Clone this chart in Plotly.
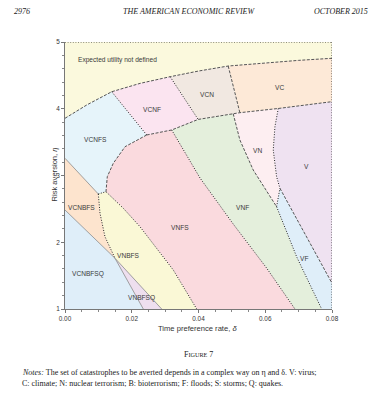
import plotly.graph_objects as go

# ---------------- data (delta, eta) ----------------
# upper boundary of "Expected utility not defined"
eu_delta = [0.0, 0.0065, 0.014, 0.0225, 0.0315, 0.040, 0.0489, 0.060, 0.070, 0.080]
eu_eta = [3.857, 4.056, 4.255, 4.38, 4.48, 4.565, 4.64, 4.69, 4.725, 4.756]

# middle boundary B-E-D-F-H-I-J
mid_delta = [0.02448, 0.03197, 0.0399, 0.0504, 0.0524, 0.0639, 0.080]
mid_eta = [3.607, 3.682, 3.84, 3.925, 3.941, 4.004, 4.106]

# arc bounding VNFS on the upper left (B -> P)
arc_delta = [0.02448, 0.01798, 0.01447, 0.01267, 0.01228]
arc_eta = [3.607, 3.431, 3.183, 2.982, 2.757]

vnfs_vnf_delta = [0.03197, 0.03595, 0.04045, 0.0504, 0.0604, 0.0689]
vnfs_vnf_eta = [3.682, 3.352, 2.963, 2.273, 1.614, 1.0]

vnf_vn_delta = [0.0504, 0.0524, 0.0564, 0.0634]
vnf_vn_eta = [3.925, 3.532, 3.082, 2.533]

vnf_vf_delta = [0.0634, 0.0694, 0.0769]
vnf_vf_eta = [2.533, 1.783, 1.0]

v_vn_delta = [0.0639, 0.0629, 0.0624, 0.0634, 0.0644]
v_vn_eta = [4.004, 3.731, 3.382, 2.982, 2.808]

v_vf_delta = [0.0644, 0.080]
v_vf_eta = [2.808, 1.386]

vcnfs_vcnbfs_delta = [0.0, 0.00998]
vcnfs_vcnbfs_eta = [3.258, 2.723]

vcnbfs_vcnbfsq_delta = [0.0, 0.01498]
vcnbfs_vcnbfsq_eta = [2.483, 1.76]

vcnbfs_vnbfs_delta = [0.00998, 0.01049, 0.01198, 0.01498]
vcnbfs_vnbfs_eta = [2.723, 2.434, 2.083, 1.76]

vnbfs_vnfs_delta = [0.01228, 0.01747, 0.02247, 0.03245, 0.03946]
vnbfs_vnfs_eta = [2.757, 2.509, 2.233, 1.584, 1.0]

vcnbfsq_vnbfsq_delta = [0.01498, 0.02346]
vcnbfsq_vnbfsq_eta = [1.76, 1.0]

vnbfsq_vnbfs_delta = [0.01498, 0.02897]
vnbfsq_vnbfs_eta = [1.76, 1.0]

region_labels = ["Expected utility not defined", "VCNF", "VCN", "VC", "VCNFS", "VN", "V",
                 "VCNBFS", "VNFS", "VNF", "VNBFS", "VCNBFSQ", "VNBFSQ", "VF"]
label_delta = [0.0032, 0.02598, 0.04254, 0.06412, 0.00899, 0.05761, 0.07241,
               0.0050, 0.03446, 0.05324, 0.01897, 0.00698, 0.02298, 0.07169]
label_eta = [4.73, 3.992, 4.221, 4.315, 3.532, 3.382, 3.132,
             2.518, 2.224, 2.524, 1.809, 1.524, 1.16, 1.760]

x_ticks = [0.0, 0.02, 0.04, 0.06, 0.08]
y_ticks = [1, 2, 3, 4, 5]
D0, D1, E0, E1 = 0.0, 0.08, 1.0, 5.0

# ---------------- geometry helpers ----------------
def pts(xs, ys):
    return list(zip(xs, ys))

eu = pts(eu_delta, eu_eta)
mid = pts(mid_delta, mid_eta)
arc = pts(arc_delta, arc_eta)
vnfs_vnf = pts(vnfs_vnf_delta, vnfs_vnf_eta)
vnf_vn = pts(vnf_vn_delta, vnf_vn_eta)
vnf_vf = pts(vnf_vf_delta, vnf_vf_eta)
v_vn = pts(v_vn_delta, v_vn_eta)
v_vf = pts(v_vf_delta, v_vf_eta)
r_q = pts(vcnfs_vcnbfs_delta, vcnfs_vcnbfs_eta)
s_t = pts(vcnbfs_vcnbfsq_delta, vcnbfs_vcnbfsq_eta)
q_t = pts(vcnbfs_vnbfs_delta, vcnbfs_vnbfs_eta)
p_u = pts(vnbfs_vnfs_delta, vnbfs_vnfs_eta)
t_v = pts(vcnbfsq_vnbfsq_delta, vcnbfsq_vnbfsq_eta)
t_w = pts(vnbfsq_vnbfs_delta, vnbfsq_vnbfs_eta)

A, C, G = eu[2], eu[4], eu[6]
B, E, D, F, H, I, J = mid
P = arc[-1]
R, Q = r_q
S, T = s_t
K = vnf_vn[-1]
L = vnf_vf[-1]
M = v_vf[0]
N = v_vf[-1]
U = p_u[-1]
V_ = t_v[-1]
W = t_w[-1]
rev = lambda l: l[::-1]

regions = [
    ("EU", "#FBF9DD", [(D0, E1), (D1, E1)] + rev(eu)),
    ("VCNFS", "#E6F4FA", [R] + eu[0:3] + arc + [Q]),
    ("VCNF", "#FBE4F0", eu[2:5] + [D, E, B]),
    ("VCN", "#F1E8E1", eu[4:7] + [H, F, D]),
    ("VC", "#FDE9D7", eu[6:] + [J, I, H]),
    ("VN", "#FDEEF1", [F, H, I] + v_vn[1:] + rev(vnf_vn)[:-1]),
    ("V", "#EFE2F1", [I, J, N] + rev(v_vn)[:-1]),
    ("VNF", "#E4EFDC", [E, D, F] + vnf_vn[1:] + vnf_vf[1:] + rev(vnfs_vnf)[:-1]),
    ("VF", "#DFEEF9", v_vf + [(D1, E0)] + rev(vnf_vf)),
    ("VNFS", "#FADADE", [B] + vnfs_vnf + rev(p_u) + rev(arc)[1:-1]),
    ("VNBFS", "#FAF8D6", [Q] + p_u + [W, T] + rev(q_t)[1:-1]),
    ("VCNBFS", "#FDE4CE", [R, Q] + q_t[1:] + [S]),
    ("VCNBFSQ", "#DFEEF9", [S, T, V_, (D0, E0)]),
    ("VNBFSQ", "#EEDFEF", [T, W, V_]),
]

fig = go.Figure()
for name, col, poly in regions:
    xs = [p[0] for p in poly] + [poly[0][0]]
    ys = [p[1] for p in poly] + [poly[0][1]]
    fig.add_trace(go.Scatter(x=xs, y=ys, mode="lines", fill="toself", fillcolor=col,
                             line=dict(width=0), hoverinfo="skip", showlegend=False))

DASH = dict(color="#555555", width=1, dash="3px,1.5px")
DOT = dict(color="#222222", width=1, dash="1px,1.6px")
SOLID = dict(color="#8a8a8a", width=0.8)

lines = [
    (eu, DASH), (mid, DASH), (arc, DASH), ([A, B], DOT), ([C, D], DOT), ([G, H], DASH),
    (vnf_vn, DASH), (v_vn, DOT), (vnf_vf, DOT), ([K, M], DOT), (v_vf, DASH),
    (vnfs_vnf, DOT), (r_q, SOLID), (s_t, SOLID), (q_t, DOT), (p_u, DOT),
    (t_v, SOLID), (t_w, SOLID), ([Q, P], DOT),
    ([(D0, E1), (D1, E1)], DOT), ([(D1, E1), (D1, E0)], DOT),
]
for seg, st in lines:
    fig.add_trace(go.Scatter(x=[p[0] for p in seg], y=[p[1] for p in seg], mode="lines",
                             line=st, hoverinfo="skip", showlegend=False))

for lab, dx, ey in zip(region_labels, label_delta, label_eta):
    fig.add_annotation(x=dx, y=ey, text=lab, showarrow=False,
                       xanchor="left" if lab.startswith("Expected") else "center",
                       font=dict(family="Liberation Sans, Arial", size=6.6, color="#3a3a3a"))

serif = "Liberation Serif, Times New Roman, serif"
sans = "Liberation Sans, Arial, sans-serif"
PW = 267.0

def px_x(p):
    return (p - 65) / PW

def px_y(p):
    return (309 - p) / PW

texts = [
    ("<i>2976</i>", px_x(12), px_y(12), "left", 8.0),
    ("<i>THE AMERICAN ECONOMIC REVIEW</i>", px_x(189), px_y(12), "center", 8.0),
    ("<i>OCTOBER 2015</i>", px_x(370), px_y(12), "right", 8.0),
    ("F<span style='font-size:6.2px'>IGURE</span> 7", px_x(198), px_y(354), "center", 8.0),
    ("<i>Notes:</i> The set of catastrophes to be averted depends in a complex way on η and δ. V: virus;",
     px_x(20), px_y(372.5), "left", 8.0),
    ("C: climate; N: nuclear terrorism; B: bioterrorism; F: floods; S: storms; Q: quakes.",
     px_x(20), px_y(383.5), "left", 8.0),
]
for t, x, y, anc, sz in texts:
    fig.add_annotation(x=x, y=y, xref="paper", yref="paper", text=t, showarrow=False,
                       xanchor=anc, yanchor="middle",
                       font=dict(family=serif, size=sz, color="#222222"))

fig.add_annotation(x=px_x(197), y=px_y(335), xref="paper", yref="paper",
                   text="Time preference rate, <i>δ</i>", showarrow=False,
                   font=dict(family=sans, size=7.6, color="#333333"))
fig.add_annotation(x=px_x(47), y=px_y(175), xref="paper", yref="paper",
                   text="Risk aversion, <i>η</i>", showarrow=False, textangle=-90,
                   font=dict(family=sans, size=7.6, color="#333333"))

axis_common = dict(showgrid=False, zeroline=False, showline=True, linecolor="#777777",
                   linewidth=1, ticks="outside", ticklen=3, tickcolor="#777777",
                   tickfont=dict(family=sans, size=6.4, color="#333333"))
fig.update_xaxes(range=[D0, D1], tickvals=x_ticks, tickformat=".2f",
                 minor=dict(dtick=0.005, ticks="outside", ticklen=2, tickcolor="#888888"),
                 **axis_common)
fig.update_yaxes(range=[E0, E1], tickvals=y_ticks,
                 minor=dict(dtick=0.2, ticks="outside", ticklen=2, tickcolor="#888888"),
                 **axis_common)

# the page body has an 8px default margin, so the figure is 8px smaller and
# its margins are shifted so the plot area lands at the reference position
fig.update_layout(width=370, height=392, margin=dict(l=57, r=46, t=34, b=91),
                  paper_bgcolor="white", plot_bgcolor="white", showlegend=False)
fig.write_html("out.html")
